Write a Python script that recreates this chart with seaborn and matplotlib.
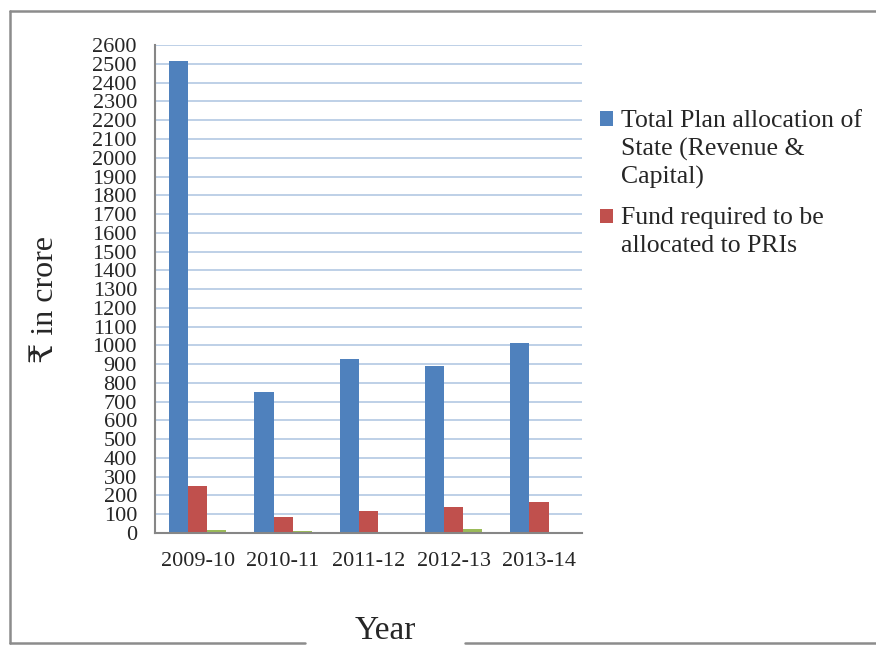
import numpy as np
import pandas as pd
import seaborn as sns
import matplotlib.pyplot as plt
import matplotlib.patches as mpatches
from matplotlib.lines import Line2D
from matplotlib.legend_handler import HandlerPatch

years = ["2009-10", "2010-11", "2011-12", "2012-13", "2013-14"]
total_plan = [2515, 752, 927, 892, 1012]
fund_required = [250, 84, 117, 140, 163]
third_series = [18, 12, 5, 21, 2]

series_names = ["Total Plan allocation of\nState (Revenue &\nCapital)",
                "Fund required to be\nallocated to PRIs",
                "Other"]
colors = ["#4F81BD", "#C0504D", "#9BBB59"]

dfr = pd.DataFrame({
    "year": years * 3,
    "value": total_plan + fund_required + third_series,
    "series": [series_names[0]] * 5 + [series_names[1]] * 5 + [series_names[2]] * 5,
})

LINESPACING = 1.31


class FirstLineHandler(HandlerPatch):
    """Square legend marker lined up with the first line of a multi-line label"""

    def __init__(self, n_lines):
        super().__init__()
        self.n_lines = n_lines

    def create_artists(self, legend, orig_handle, xdescent, ydescent,
                       width, height, fontsize, trans):
        shift = (self.n_lines - 1) / 2 * fontsize * 1.2
        p = mpatches.Rectangle((-xdescent, -ydescent + shift), width, height,
                               facecolor=orig_handle.get_facecolor(),
                               edgecolor="none", transform=trans)
        return [p]


sns.set_style("white")
plt.rcParams["font.family"] = ["Liberation Serif", "DejaVu Serif", "DejaVu Sans"]

fig = plt.figure(figsize=(8.76, 6.45), dpi=100)
ax = fig.add_axes([0.177, 0.1736, 0.487, 0.7564])

sns.barplot(data=dfr, x="year", y="value", hue="series", palette=colors,
            width=0.67, gap=0, saturation=1, legend=False, ax=ax,
            edgecolor="none", linewidth=0)

ax.set_ylim(0, 2600)
ax.set_xlim(-0.5, 4.5)
ax.set_yticks(np.arange(0, 2601, 100))
ax.yaxis.grid(True, color="#B9CDE5", linewidth=1.3)
ax.set_axisbelow(True)
ax.tick_params(axis="y", labelsize=16, length=5, color="#868686", width=1.3, pad=8)
ax.set_xticks(np.arange(-0.5, 5, 1), minor=True)
ax.tick_params(axis="x", which="minor", length=5, color="#868686", width=1.3)
ax.tick_params(axis="x", which="major", labelsize=16, length=0, pad=14)
for side in ["top", "right"]:
    ax.spines[side].set_visible(False)
for side in ["left", "bottom"]:
    ax.spines[side].set_color("#868686")
    ax.spines[side].set_linewidth(1.5)
ax.set_xlabel("")
ax.set_ylabel("")

fig.text(0.052, 1 - 300 / 645, "₹ in crore", rotation=90, fontsize=23,
         ha="center", va="center")
fig.text(0.44, 0.009, "Year", fontsize=24, ha="center", va="baseline")

# figure frame, bottom edge broken around the x label
frame_kw = dict(color="#8C8C8C", linewidth=1.8, transform=fig.transFigure)
left, right, top, bottom = 9.5 / 876, 1.0, 1 - 11 / 645, 1 - 643 / 645
fig.add_artist(Line2D([left, left], [bottom, top], **frame_kw))
fig.add_artist(Line2D([left, right], [top, top], **frame_kw))
fig.add_artist(Line2D([left, 305 / 876], [bottom, bottom], **frame_kw))
fig.add_artist(Line2D([465 / 876, right], [bottom, bottom], **frame_kw))

handles = [mpatches.Patch(facecolor=colors[0]), mpatches.Patch(facecolor=colors[1])]
leg = fig.legend(handles, series_names[:2], loc="upper left",
                 bbox_to_anchor=(0.685, 0.829), frameon=False, fontsize=18.5,
                 handlelength=0.5, handleheight=0.5, handletextpad=0.3,
                 labelspacing=0.7, borderpad=0, borderaxespad=0,
                 handler_map={handles[0]: FirstLineHandler(3),
                              handles[1]: FirstLineHandler(2)})
for t in leg.get_texts():
    t.set_linespacing(LINESPACING)

plt.savefig("out.png", dpi=100)
